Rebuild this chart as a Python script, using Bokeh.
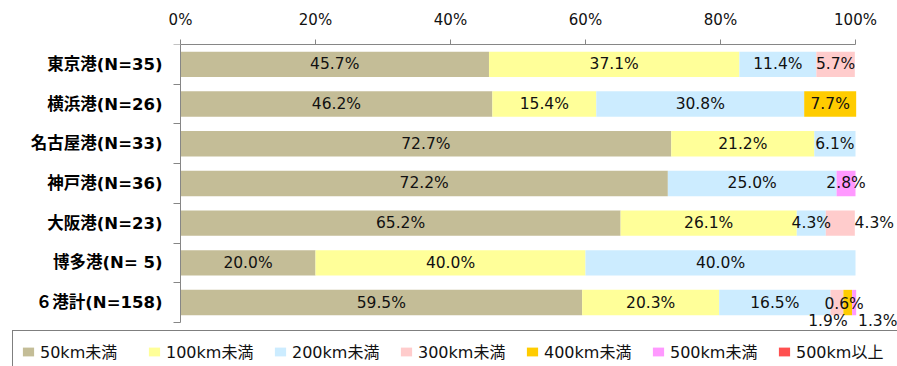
from bokeh.plotting import figure
from bokeh.models import (ColumnDataSource, Range1d, FixedTicker, PrintfTickFormatter,
                          Legend, LegendItem)
from bokeh.core.properties import value
from bokeh.embed import file_html
from bokeh.resources import INLINE

# ---- data ----
ports = ["東京港(N=35)", "横浜港(N=26)", "名古屋港(N=33)", "神戸港(N=36)",
         "大阪港(N=23)", "博多港(N= 5)", "６港計(N=158)"]
series_labels = ["50km未満", "100km未満", "200km未満", "300km未満",
                 "400km未満", "500km未満", "500km以上"]
s50 = [45.7, 46.2, 72.7, 72.2, 65.2, 20.0, 59.5]
s100 = [37.1, 15.4, 21.2, 0.0, 26.1, 40.0, 20.3]
s200 = [11.4, 30.8, 6.1, 25.0, 4.3, 40.0, 16.5]
s300 = [5.7, 0.0, 0.0, 0.0, 4.3, 0.0, 1.9]
s400 = [0.0, 7.7, 0.0, 0.0, 0.0, 0.0, 1.3]
s500 = [0.0, 0.0, 0.0, 2.8, 0.0, 0.0, 0.6]
s500p = [0.0, 0.0, 0.0, 0.0, 0.0, 0.0, 0.0]
x_ticks = [0, 20, 40, 60, 80, 100]

# ---- style ----
colors = ["#C4BD97", "#FFFF99", "#CCECFF", "#FFCCCC", "#FFCC00", "#FF99FF", "#FF5050"]
# manual label nudges (pixels) for crowded segments: (port index, series index) -> (dx, dy)
nudges = {(4, 3): (34, 0), (6, 3): (-9, 18), (6, 4): (30, 18), (6, 5): (-10, 1)}

W, H = 897, 366
AXIS_X, FRAME_T = 180, 44
PITCH = 39.7
PX_PER_PCT = 6.75
LATIN_CJK = "DejaVu Sans, Noto Sans CJK JP"

series = [s50, s100, s200, s300, s400, s500, s500p]
keys = ["s%d" % i for i in range(len(series))]
n = len(ports)
ys = [i + 0.5 for i in range(n)]

src = dict(y=ys)
for k, s in zip(keys, series):
    src[k] = s
source = ColumnDataSource(src)

x_start = -AXIS_X / PX_PER_PCT
x_end = (W - AXIS_X) / PX_PER_PCT
y_end = (H - FRAME_T) / PITCH

p = figure(width=W, height=H, output_backend="svg", toolbar_location=None,
           x_range=Range1d(x_start, x_end), y_range=Range1d(y_end, 0),
           x_axis_location="above", min_border_left=0, min_border_right=0,
           min_border_top=FRAME_T, min_border_bottom=0)
p.outline_line_color = None
p.xgrid.visible = False
p.ygrid.visible = False
p.background_fill_color = "white"
p.border_fill_color = "white"

renderers = p.hbar_stack(keys, y="y", height=0.64, color=colors, line_color=None,
                         source=source)

# data labels
lx, ly, lt, ldx, ldy = [], [], [], [], []
for i in range(n):
    left = 0.0
    for j, s in enumerate(series):
        v = s[i]
        if v > 0:
            dx, dy = nudges.get((i, j), (0, 0))
            lx.append(left + v / 2)
            ly.append(ys[i])
            lt.append("%.1f%%" % v)
            ldx.append(dx)
            ldy.append(dy)
        left += v
lsrc = ColumnDataSource(dict(x=lx, y=ly, text=lt, dx=ldx, dy=ldy))
p.text(x="x", y="y", text="text", source=lsrc, x_offset="dx", y_offset="dy",
       text_align="center", text_baseline="middle", text_color="#111111",
       text_font=value("DejaVu Sans"), text_font_size="15.5px")

# top x axis
xa = p.xaxis[0]
xa.ticker = FixedTicker(ticks=x_ticks, minor_ticks=[])
xa.formatter = PrintfTickFormatter(format="%d%%")
xa.bounds = (0, 100)
xa.axis_line_color = "#868686"
xa.major_tick_line_color = "#868686"
xa.major_tick_out = 5
xa.major_tick_in = 0
xa.minor_tick_line_color = None
xa.major_label_standoff = 11
xa.major_label_text_font = "DejaVu Sans"
xa.major_label_text_font_size = "15px"
xa.major_label_text_color = "#111111"

# left y axis fixed at 0%: labels at category centres, tick marks at boundaries
ya = p.yaxis[0]
ya.fixed_location = 0
ya.ticker = FixedTicker(ticks=ys, minor_ticks=list(range(n + 1)))
ya.major_label_overrides = {y: lab for y, lab in zip(ys, ports)}
ya.bounds = (0, n)
ya.axis_line_color = "#868686"
ya.major_tick_line_color = None
ya.major_tick_out = 7
ya.major_tick_in = 0
ya.minor_tick_line_color = "#868686"
ya.minor_tick_out = 7
ya.minor_tick_in = 0
ya.major_label_standoff = 11
ya.major_label_text_font = LATIN_CJK
ya.major_label_text_font_style = "bold"
ya.major_label_text_font_size = "16.5px"
ya.major_label_text_color = "#000000"

# legend
items = [LegendItem(label=lab, renderers=[r]) for lab, r in zip(series_labels, renderers)]
legend = Legend(items=items, orientation="horizontal", location=(12, -6),
                glyph_width=14, glyph_height=11, label_standoff=5, label_width=100,
                label_height=24, spacing=7, padding=8, margin=0,
                border_line_color="black", border_line_width=1,
                background_fill_color="white", background_fill_alpha=1,
                label_text_font=LATIN_CJK, label_text_font_size="16px",
                label_text_color="#111111")
p.add_layout(legend, "center")

open("out.html", "w").write(file_html(p, INLINE))
